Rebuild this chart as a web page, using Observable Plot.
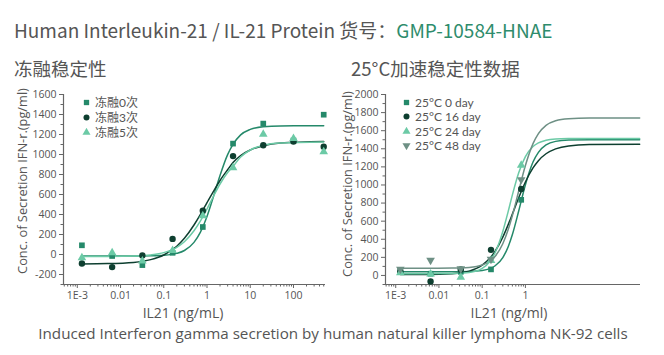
<!DOCTYPE html>
<html><head><meta charset="utf-8">
<script src="https://cdn.jsdelivr.net/npm/d3@7"></script>
<script src="https://cdn.jsdelivr.net/npm/@observablehq/plot@0.6"></script>
<style>
html,body{margin:0;padding:0;background:#fff;}
#root{position:relative;width:664px;height:355px;overflow:hidden;background:#fff;}
.abs{position:absolute;white-space:nowrap;}
.title{font-family:"Noto Sans CJK SC","Noto Sans",sans-serif;color:#555;}
.lab{font-family:"Open Sans",Lato,sans-serif;color:#555;}
.leg{font-family:Lato,"Noto Sans CJK SC",sans-serif;color:#555;font-size:12px;line-height:15px;}
.leg div{display:flex;align-items:center;height:15px;}
.leg svg{margin-right:4px;}
</style></head>
<body><div id="root"></div>
<script>
// ---- data ----
const doses = [0.00128, 0.0064, 0.032, 0.16, 0.8, 4, 20, 100, 500];
const ft0 = [92, -15, -106, 17, 275, 1109, 1309, 1140, 1398];
const ft3 = [-90, -126, -10, 156, 437, 984, 1093, 1130, 1077];
const ft5 = [-33, 17, -66, 40, 387, 868, 1203, 1160, 1027];

const rDoses = [0.00128, 0.0064, 0.032, 0.16, 0.8];
const d0 = [62, 19, 40, 67, 836];
const d16 = [45, -67, 67, 283, 955];
const d24 = [29, 15, -19, 165, 1219];
const d48 = [70, 167, 75, 178, 1059];

// fitted curves
const curveXL = [0.00128, 0.005, 0.02, 0.05, 0.1, 0.2, 0.3, 0.5, 0.7, 1, 1.4, 2, 3, 4, 6, 10, 20, 50, 500];
const fit0 = [-15, -15, -15, -13, -8, 11, 40, 121, 221, 380, 575, 791, 999, 1101, 1196, 1251, 1278, 1286, 1288];
const fit3 = [-94, -91, -79, -51, -5, 83, 162, 295, 399, 518, 629, 740, 848, 920, 990, 1045, 1088, 1114, 1129];
const fit5 = [-20, -19, -15, -4, 19, 72, 128, 237, 333, 455, 580, 705, 820, 880, 975, 1045, 1093, 1115, 1124];

const curveXR = [0.00128, 0.005, 0.02, 0.05, 0.1, 0.15, 0.2, 0.3, 0.4, 0.5, 0.7, 1, 1.5, 2, 3, 5, 10, 30, 440];
const fitD0 = [40, 40, 40, 43, 54, 75, 107, 198, 318, 452, 712, 1003, 1254, 1361, 1442, 1482, 1496, 1500, 1500];
const fitD16 = [10, 11, 20, 48, 114, 190, 269, 424, 562, 679, 859, 1033, 1188, 1269, 1345, 1399, 1432, 1446, 1450];
const fitD24 = [20, 20, 22, 33, 78, 155, 254, 486, 708, 890, 1134, 1313, 1425, 1466, 1494, 1508, 1513, 1515, 1515];
const fitD48 = [80, 80, 81, 89, 115, 157, 212, 350, 507, 662, 934, 1215, 1457, 1568, 1659, 1710, 1732, 1739, 1740];

const seriesL = ["冻融0次", "冻融3次", "冻融5次"];
const seriesR = ["25°C 0 day", "25°C 16 day", "25°C 24 day", "25°C 48 day"];

const xTicksL = [0.001, 0.01, 0.1, 1, 10, 100];
const xTickLabelsL = ["1E-3", "0.01", "0.1", "1", "10", "100"];
const xTicksR = [0.001, 0.01, 0.1, 1];
const xTickLabelsR = ["1E-3", "0.01", "0.1", "1"];
const yTicksL = [-200, 0, 200, 400, 600, 800, 1000, 1200, 1400, 1600];
const yTicksR = [0, 200, 400, 600, 800, 1000, 1200, 1400, 1600, 1800, 2000];
const xDomainL = [0.00048, 550];
const xDomainR = [0.00058, 460];
const yDomainL = [-300, 1600];
const yDomainR = [-100, 2000];

const titleMain = "Human Interleukin-21 / IL-21 Protein 货号：";
const titleCode = "GMP-10584-HNAE";
const subL = "冻融稳定性";
const subR = "25°C加速稳定性数据";
const yLabel = "Conc. of Secretion IFN-r.(pg/ml)";
const xLabelL = "IL21 (ng/mL)";
const xLabelR = "IL21 (ng/ml)";
const caption = "Induced Interferon gamma secretion by human natural killer lymphoma NK-92 cells";

// ---- styles ----
const colors = ["#25896a", "#0e3f30", "#6ccaa6", "#6e9085"];
const symbols = ["square", "circle", "triangle", "triangle"];
const rotates = [0, 0, 0, 180];
const axisColor = "#666";

function minorLog(domain, maxV) {
  const out = [];
  for (let e = -5; e <= 3; e++) for (let m = 2; m <= 9; m++) {
    const v = m * Math.pow(10, e);
    if (v >= domain[0] && v <= domain[1] && v <= maxV) out.push(v);
  }
  return out;
}
function minorLin(domain, step, majors) {
  const out = [];
  for (let v = Math.ceil(domain[0] / step) * step; v <= domain[1]; v += step) if (!majors.includes(v)) out.push(v);
  return out;
}

function makeChart({xDomain, yDomain, xTicks, xLabels, yTicks, curveX, fits, pointX, pts, ml, mr, minorMax}) {
  const fmt = new Map(xTicks.map((d, i) => [d, xLabels[i]]));
  const marks = [
    Plot.axisX(minorLog(xDomain, minorMax), {tickSize: 2.5, text: null, label: null, stroke: axisColor}),
    Plot.axisX(xTicks, {tickSize: 4, tickPadding: 3, tickFormat: d => fmt.get(d), label: null, stroke: axisColor, fill: "#555"}),
    Plot.axisY(minorLin(yDomain, 100, yTicks), {tickSize: 2.5, text: null, label: null, stroke: axisColor}),
    Plot.axisY(yTicks, {tickSize: 4, tickPadding: 3, tickFormat: d => String(d), label: null, stroke: axisColor, fill: "#555"}),
    Plot.ruleX([xDomain[0]], {stroke: axisColor, strokeWidth: 1.2}),
    Plot.ruleY([yDomain[0]], {stroke: axisColor, strokeWidth: 1.2}),
  ];
  fits.forEach((f, i) => {
    marks.push(Plot.line(curveX.map((x, j) => ({x, y: f[j]})), {x: "x", y: "y", stroke: colors[i], strokeWidth: 1.5, curve: "monotone-x"}));
  });
  pts.forEach((p, i) => {
    marks.push(Plot.dot(pointX.map((x, j) => ({x, y: p[j]})), {x: "x", y: "y", symbol: symbols[i], fill: colors[i], stroke: "none", r: 3.2, rotate: rotates[i]}));
  });
  return Plot.plot({
    width: 332, height: 250,
    marginLeft: ml, marginRight: mr, marginTop: 14, marginBottom: 46,
    x: {type: "log", domain: xDomain, axis: null},
    y: {domain: yDomain, axis: null},
    style: {fontFamily: "'Open Sans', Lato, sans-serif", fontSize: "10.5px", color: "#555", background: "transparent", overflow: "visible"},
    marks
  });
}

const root = document.getElementById("root");
function addDiv(html, cls, css) {
  const d = document.createElement("div");
  d.className = "abs " + cls;
  d.innerHTML = html;
  Object.assign(d.style, css);
  root.appendChild(d);
  return d;
}

addDiv(titleMain + '<span style="color:#2e8c6c">' + titleCode + '</span>', "title", {left: "14px", top: "17px", fontSize: "19px", lineHeight: "26px"});
addDiv(subL, "title", {left: "14px", top: "55px", fontSize: "18.5px", lineHeight: "26px"});
addDiv(subR, "title", {left: "351px", top: "55px", fontSize: "18.5px", lineHeight: "26px"});

const left = makeChart({xDomain: xDomainL, yDomain: yDomainL, xTicks: xTicksL, xLabels: xTickLabelsL, yTicks: yTicksL,
  curveX: curveXL, fits: [fit0, fit3, fit5], pointX: doses, pts: [ft0, ft3, ft5], ml: 63, mr: 7, minorMax: 1e9});
const cl = document.createElement("div"); cl.className = "abs"; Object.assign(cl.style, {left: "0px", top: "80px"});
cl.appendChild(left); root.appendChild(cl);

const right = makeChart({xDomain: xDomainR, yDomain: yDomainR, xTicks: xTicksR, xLabels: xTickLabelsR, yTicks: yTicksR,
  curveX: curveXR, fits: [fitD0, fitD16, fitD24, fitD48], pointX: rDoses, pts: [d0, d16, d24, d48], ml: 53, mr: 24, minorMax: 1});
const cr = document.createElement("div"); cr.className = "abs"; Object.assign(cr.style, {left: "332px", top: "80px"});
cr.appendChild(right); root.appendChild(cr);

// y labels (rotated)
function yLab(cx, cy) {
  addDiv(yLabel, "lab", {left: cx + "px", top: cy + "px", fontSize: "12.8px", lineHeight: "16px", transform: "translate(-50%,-50%) rotate(-90deg)"});
}
yLab(22, 181);
yLab(347, 184);
addDiv(xLabelL, "lab", {left: "183px", top: "303.5px", fontSize: "14px", lineHeight: "18px", transform: "translateX(-50%)"});
addDiv(xLabelR, "lab", {left: "509px", top: "303.5px", fontSize: "14px", lineHeight: "18px", transform: "translateX(-50%)"});
addDiv(caption, "lab", {left: "333px", top: "324px", fontSize: "15.2px", lineHeight: "18px", transform: "translateX(-50%)"});

// legends
function legend(names, x, y, gap) {
  const d = addDiv("", "leg", {left: x + "px", top: y + "px"});
  names.forEach((n, i) => {
    const row = document.createElement("div");
    row.style.height = gap + "px";
    const s = d3.create("svg").attr("width", 9).attr("height", 9);
    const sym = {square: d3.symbolSquare, circle: d3.symbolCircle, triangle: d3.symbolTriangle}[symbols[i]];
    s.append("path").attr("d", d3.symbol(sym, Math.PI * 3 * 3)()).attr("fill", colors[i])
      .attr("transform", `translate(4.5,4.5) rotate(${rotates[i]})`);
    row.appendChild(s.node());
    const t = document.createElement("span"); t.textContent = n; row.appendChild(t);
    d.appendChild(row);
  });
}
legend(seriesL, 82, 95, 15);
legend(seriesR, 402, 95, 14.5);
</script></body></html>
